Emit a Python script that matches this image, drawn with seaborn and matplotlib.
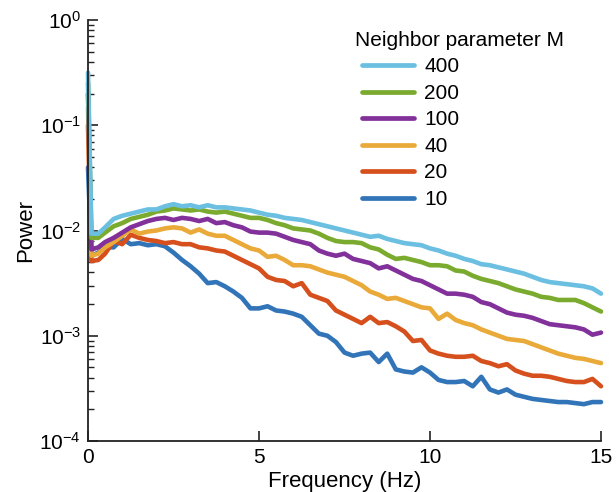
import numpy as np
import pandas as pd
import matplotlib
matplotlib.use("Agg")
import matplotlib.pyplot as plt
import seaborn as sns
from matplotlib.ticker import FixedLocator, FuncFormatter, LogLocator, NullFormatter
from matplotlib.lines import Line2D

# ---- data (log10 of power) ----
freq = [0, 0.1, 0.3, 0.5, 0.75, 1.0, 1.25, 1.5, 1.75, 2.0, 2.25, 2.5, 2.75, 3.0, 3.25, 3.5,
        3.75, 4.0, 4.25, 4.5, 4.75, 5.0, 5.25, 5.5, 5.75, 6.0, 6.25, 6.5, 6.75, 7.0, 7.25,
        7.5, 7.75, 8.0, 8.25, 8.5, 8.75, 9.0, 9.25, 9.5, 9.75, 10.0, 10.25, 10.5, 10.75,
        11.0, 11.25, 11.5, 11.75, 12.0, 12.25, 12.5, 12.75, 13.0, 13.25, 13.5, 13.75, 14.0,
        14.25, 14.5, 14.75, 15.0]

log_m400 = [-0.50, -2.03, -2.03, -1.97, -1.89, -1.86, -1.84, -1.82, -1.80, -1.80, -1.77, -1.75,
            -1.77, -1.76, -1.78, -1.76, -1.78, -1.78, -1.79, -1.80, -1.81, -1.83, -1.85, -1.86,
            -1.88, -1.89, -1.90, -1.92, -1.94, -1.96, -1.98, -2.00, -2.02, -2.04, -2.06, -2.05,
            -2.08, -2.10, -2.12, -2.13, -2.14, -2.17, -2.19, -2.22, -2.24, -2.27, -2.29, -2.32,
            -2.33, -2.35, -2.37, -2.39, -2.41, -2.44, -2.47, -2.49, -2.50, -2.51, -2.52, -2.53,
            -2.55, -2.60]
log_m200 = [-0.60, -2.07, -2.07, -2.02, -1.96, -1.93, -1.89, -1.87, -1.85, -1.82, -1.81, -1.79,
            -1.80, -1.81, -1.80, -1.82, -1.83, -1.82, -1.84, -1.86, -1.88, -1.88, -1.90, -1.93,
            -1.95, -1.98, -1.99, -2.00, -2.03, -2.07, -2.10, -2.11, -2.11, -2.12, -2.16, -2.18,
            -2.23, -2.27, -2.26, -2.28, -2.30, -2.33, -2.33, -2.34, -2.38, -2.39, -2.43, -2.46,
            -2.48, -2.50, -2.53, -2.56, -2.58, -2.60, -2.63, -2.64, -2.66, -2.66, -2.66, -2.69,
            -2.73, -2.77]
log_m100 = [-0.70, -2.18, -2.16, -2.11, -2.07, -2.02, -1.97, -1.94, -1.91, -1.89, -1.88, -1.90,
            -1.88, -1.89, -1.91, -1.89, -1.93, -1.92, -1.95, -1.97, -2.01, -2.02, -2.02, -2.03,
            -2.06, -2.09, -2.11, -2.13, -2.19, -2.22, -2.24, -2.22, -2.27, -2.29, -2.31, -2.36,
            -2.34, -2.38, -2.42, -2.46, -2.48, -2.52, -2.56, -2.60, -2.60, -2.61, -2.63, -2.68,
            -2.70, -2.74, -2.78, -2.80, -2.81, -2.83, -2.86, -2.89, -2.90, -2.91, -2.92, -2.94,
            -2.99, -2.97]
log_m40 = [-0.83, -2.24, -2.22, -2.16, -2.11, -2.05, -1.99, -2.03, -2.01, -2.00, -1.98, -1.97,
           -1.98, -2.02, -1.99, -2.03, -2.05, -2.05, -2.09, -2.13, -2.17, -2.19, -2.25, -2.24,
           -2.28, -2.33, -2.33, -2.34, -2.37, -2.40, -2.42, -2.44, -2.48, -2.52, -2.58, -2.61,
           -2.65, -2.64, -2.67, -2.70, -2.73, -2.74, -2.84, -2.79, -2.85, -2.88, -2.90, -2.94,
           -2.97, -3.00, -3.03, -3.04, -3.05, -3.08, -3.11, -3.14, -3.17, -3.19, -3.21, -3.22,
           -3.24, -3.26]
log_m20 = [-1.00, -2.29, -2.28, -2.22, -2.10, -2.13, -2.04, -2.07, -2.09, -2.10, -2.12, -2.11,
           -2.13, -2.13, -2.16, -2.17, -2.19, -2.20, -2.24, -2.28, -2.32, -2.36, -2.44, -2.47,
           -2.48, -2.53, -2.50, -2.61, -2.64, -2.67, -2.76, -2.80, -2.84, -2.88, -2.82, -2.88,
           -2.87, -2.91, -2.96, -3.05, -3.04, -3.14, -3.17, -3.19, -3.20, -3.20, -3.19, -3.24,
           -3.26, -3.29, -3.27, -3.33, -3.36, -3.38, -3.38, -3.39, -3.41, -3.43, -3.44, -3.44,
           -3.41, -3.48]
log_m10 = [-1.40, -2.24, -2.21, -2.16, -2.16, -2.08, -2.13, -2.12, -2.14, -2.13, -2.15, -2.21,
           -2.28, -2.34, -2.41, -2.50, -2.49, -2.53, -2.58, -2.64, -2.74, -2.74, -2.72, -2.76,
           -2.77, -2.79, -2.82, -2.90, -2.98, -3.00, -3.06, -3.16, -3.19, -3.17, -3.16, -3.25,
           -3.17, -3.32, -3.34, -3.35, -3.30, -3.35, -3.42, -3.44, -3.44, -3.43, -3.48, -3.39,
           -3.51, -3.54, -3.51, -3.56, -3.58, -3.60, -3.61, -3.62, -3.63, -3.63, -3.64, -3.65,
           -3.63, -3.63]

m_labels = ["10", "20", "40", "100", "200", "400"]
legend_title = "Neighbor parameter M"
series = {"10": log_m10, "20": log_m20, "40": log_m40,
          "100": log_m100, "200": log_m200, "400": log_m400}
colors = {"10": "#3274b8", "20": "#d6501e", "40": "#e9aa3a",
          "100": "#82309a", "200": "#7aab2e", "400": "#6bbfe0"}

rows = []
for m in m_labels:
    for f, lv in zip(freq, series[m]):
        rows.append({"freq": f, "power": 10.0 ** lv, "M": m})
df = pd.DataFrame(rows)

sns.set_style("ticks")
plt.rcParams["font.family"] = ["Liberation Sans", "DejaVu Sans"]
plt.rcParams["mathtext.fontset"] = "custom"
plt.rcParams["mathtext.rm"] = "Liberation Sans"
plt.rcParams["mathtext.it"] = "Liberation Sans:italic"
plt.rcParams["mathtext.bf"] = "Liberation Sans:bold"
plt.rcParams["text.color"] = "black"
plt.rcParams["axes.labelcolor"] = "black"
plt.rcParams["xtick.color"] = "#222222"
plt.rcParams["ytick.color"] = "#222222"
plt.rcParams["xtick.labelcolor"] = "black"
plt.rcParams["ytick.labelcolor"] = "black"

fig = plt.figure(figsize=(6.16, 4.92), dpi=100)
top_px, bot_px, left_px, right_px = 20, 441, 88, 601
ax = fig.add_axes([left_px / 616, 1 - bot_px / 492, (right_px - left_px) / 616,
                   (bot_px - top_px) / 492])

sns.lineplot(data=df, x="freq", y="power", hue="M", hue_order=m_labels,
             palette=colors, linewidth=3.3, ax=ax, legend=False, sort=False,
             estimator=None)
for ln in ax.get_lines():
    ln.set_clip_on(False)
    ln.set_solid_joinstyle("round")
ax.set_yscale("log")
ax.set_xlim(0, 15)
ax.set_ylim(1e-4, 1)

ax.xaxis.set_major_locator(FixedLocator([0, 5, 10, 15]))
ax.yaxis.set_major_locator(FixedLocator([1e-4, 1e-3, 1e-2, 1e-1, 1]))
ax.yaxis.set_minor_locator(LogLocator(base=10, subs=np.arange(2, 10), numticks=20))
ax.yaxis.set_minor_formatter(NullFormatter())
ax.yaxis.set_major_formatter(FuncFormatter(
    lambda v, p: r"$\mathregular{10^{%d}}$" % int(round(np.log10(v)))))

for s in ["top", "right"]:
    ax.spines[s].set_visible(False)
for s in ["left", "bottom"]:
    ax.spines[s].set_linewidth(1.3)
    ax.spines[s].set_color("#222222")

ax.tick_params(axis="both", which="major", direction="in", length=7, width=1.2,
               labelsize=15, pad=5, left=True, bottom=True)
ax.tick_params(axis="y", which="minor", direction="in", length=4, width=1.0, left=True)
ax.tick_params(axis="x", which="minor", bottom=False)

ax.set_xlabel("Frequency (Hz)", fontsize=16, labelpad=3)
ax.set_ylabel("Power", fontsize=16, labelpad=2)

handles = [Line2D([0], [0], color=colors[m], lw=3.4) for m in reversed(m_labels)]
leg = ax.legend(handles, list(reversed(m_labels)),
                loc="upper left", bbox_to_anchor=(0.5175, 0.931), frameon=False,
                fontsize=15, handlelength=2.5, handletextpad=0.5,
                labelspacing=0.36, borderaxespad=0.0, borderpad=0.4)
ax.text(355 / 616, 1 - 40 / 492, legend_title, transform=fig.transFigure,
        fontsize=15, ha="left", va="center", color="black")

fig.savefig("out.png", dpi=100)
